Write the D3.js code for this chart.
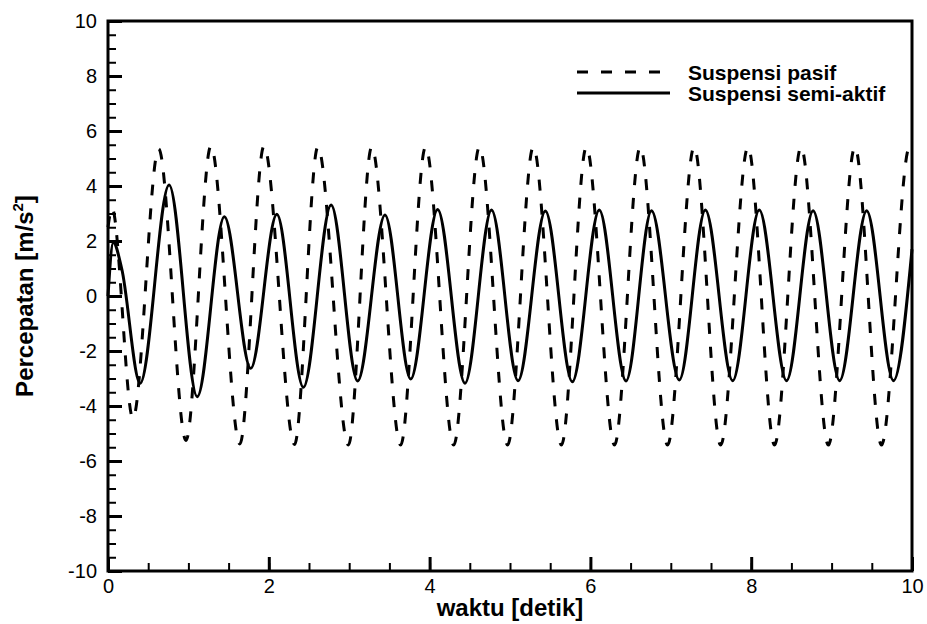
<!DOCTYPE html>
<html lang="id">
  <head>
    <meta charset="utf-8">
    <script src="https://d3js.org/d3.v7.min.js"></script>
    <title>Percepatan suspensi</title>
    <style>
      body { margin: 0; background: #fff; }
      text { font-family: "Liberation Sans", Arial, sans-serif; fill: #000; }
    </style>
  </head>
  <body>
    <div id="chart"></div>
    <script type="text/javascript">
      // puncak/lembah (waktu [detik], percepatan [m/s2])
      var pasifT = [0, 0.05, 0.31, 0.63, 0.97, 1.28, 1.64, 1.94, 2.32, 2.61, 2.99, 3.28, 3.64, 3.95, 4.30,
                    4.62, 4.97, 5.29, 5.64, 5.95, 6.30, 6.62, 6.96, 7.29, 7.62, 7.96, 8.29, 8.62, 8.96, 9.29, 9.62, 9.97, 10];
      var pasifA = [2.5, 3.2, -4.45, 5.35, -5.25, 5.45, -5.38, 5.45, -5.4, 5.42, -5.42, 5.42, -5.42, 5.42, -5.42,
                    5.42, -5.42, 5.42, -5.42, 5.42, -5.42, 5.42, -5.42, 5.42, -5.42, 5.42, -5.42, 5.42, -5.42, 5.42, -5.42, 5.42, 5.4];

      var semiT = [0, 0.066, 0.17, 0.40, 0.76, 1.11, 1.447, 1.775, 2.10, 2.43, 2.775, 3.105, 3.445, 3.765, 4.10,
                   4.44, 4.77, 5.10, 5.44, 5.775, 6.11, 6.443, 6.76, 7.106, 7.43, 7.77, 8.10, 8.44, 8.77, 9.10, 9.436, 9.77, 10];
      var semiA = [0, 1.95, 1.0, -3.17, 4.04, -3.66, 2.88, -2.63, 2.97, -3.32, 3.31, -3.09, 2.95, -3.02, 3.15,
                   -3.17, 3.13, -3.08, 3.09, -3.12, 3.13, -3.09, 3.10, -3.05, 3.13, -3.08, 3.13, -3.08, 3.10, -3.08, 3.10, -3.08, 1.7];

      var xTicks = [0, 2, 4, 6, 8, 10];
      var yTicks = [-10, -8, -6, -4, -2, 0, 2, 4, 6, 8, 10];

      var W = 927, H = 624;
      var pl = 108, pr = 912, pt = 21, pb = 571;

      var svg = d3.select("#chart").append("svg")
          .attr("width", W).attr("height", H);

      var x = d3.scaleLinear().domain([0, 10]).range([pl, pr]);
      var y = d3.scaleLinear().domain([-10, 10]).range([pb, pt]);

      // minor ticks
      svg.append("g")
          .attr("transform", "translate(0," + pb + ")")
          .call(d3.axisBottom(x).tickValues(d3.range(0, 10.01, 0.5)).tickSize(-8).tickFormat(""))
          .call(function (g) { g.select(".domain").remove(); g.selectAll("line").attr("stroke-width", 2); });
      svg.append("g")
          .attr("transform", "translate(" + pl + ",0)")
          .call(d3.axisLeft(y).tickValues(d3.range(-10, 10.01, 0.5)).tickSize(-8).tickFormat(""))
          .call(function (g) { g.select(".domain").remove(); g.selectAll("line").attr("stroke-width", 2); });

      // major ticks + labels (plain hyphen for minus, like the original)
      var fmt = function (d) { return String(d); };
      var xAxis = svg.append("g")
          .attr("transform", "translate(0," + pb + ")")
          .call(d3.axisBottom(x).tickValues(xTicks).tickSize(-14).tickPadding(8).tickFormat(fmt));
      var yAxis = svg.append("g")
          .attr("transform", "translate(" + pl + ",0)")
          .call(d3.axisLeft(y).tickValues(yTicks).tickSize(-14).tickPadding(11).tickFormat(fmt));
      [xAxis, yAxis].forEach(function (g) {
        g.select(".domain").remove();
        g.selectAll("line").attr("stroke-width", 3);
        g.selectAll("text").style("font-size", "20px").attr("fill", "#000");
      });

      var line = d3.line()
          .x(function (d) { return x(d[0]); })
          .y(function (d) { return y(d[1]); })
          .curve(d3.curveMonotoneX);

      svg.append("path")
          .datum(d3.zip(pasifT, pasifA))
          .attr("d", line)
          .attr("fill", "none")
          .attr("stroke", "#000")
          .attr("stroke-width", 3)
          .attr("stroke-dasharray", "11,13");

      svg.append("path")
          .datum(d3.zip(semiT, semiA))
          .attr("d", line)
          .attr("fill", "none")
          .attr("stroke", "#000")
          .attr("stroke-width", 3);

      // frame
      svg.append("rect")
          .attr("x", pl).attr("y", pt)
          .attr("width", pr - pl).attr("height", pb - pt)
          .attr("fill", "none").attr("stroke", "#000").attr("stroke-width", 3);

      // axis titles
      svg.append("text")
          .attr("x", (pl + pr) / 2).attr("y", 616)
          .attr("text-anchor", "middle")
          .style("font-size", "24px").style("font-weight", "bold")
          .text("waktu [detik]");

      var yt = svg.append("text")
          .attr("transform", "translate(33," + ((pt + pb) / 2) + ") rotate(-90)")
          .attr("text-anchor", "middle")
          .style("font-size", "24px").style("font-weight", "bold");
      yt.append("tspan").text("Percepatan [m/s");
      yt.append("tspan").attr("dy", -10).style("font-size", "15px").text("2");
      yt.append("tspan").attr("dy", 10).text("]");

      // legend
      var legend = [
        { name: "Suspensi pasif", dash: "11,13", y: 72 },
        { name: "Suspensi semi-aktif", dash: null, y: 93 }
      ];
      var lg = svg.append("g");
      legend.forEach(function (d) {
        lg.append("line")
            .attr("x1", 577).attr("x2", 670)
            .attr("y1", d.y).attr("y2", d.y)
            .attr("stroke", "#000").attr("stroke-width", 3)
            .attr("stroke-dasharray", d.dash);
        lg.append("text")
            .attr("x", 688).attr("y", d.y).attr("dy", "0.36em")
            .style("font-size", "21px").style("font-weight", "bold")
            .text(d.name);
      });
    </script>
  </body>
</html>
